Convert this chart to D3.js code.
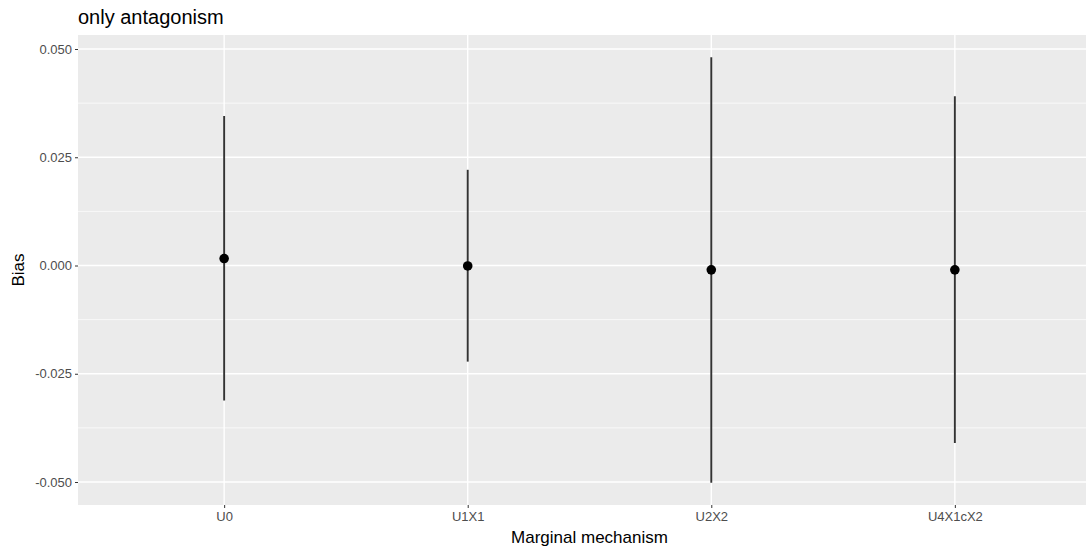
<!DOCTYPE html>
<html>
<head>
<meta charset="utf-8">
<script src="https://cdn.jsdelivr.net/npm/d3@7"></script>
<style>
  body { margin: 0; background: #fff; }
  svg { font-family: "Liberation Sans", Arial, sans-serif; display: block; }
</style>
</head>
<body>
<div id="chart"></div>
<script>
// valores
var mechanisms = ["U0", "U1X1", "U2X2", "U4X1cX2"];
var bias = [0.0016, -0.0001, -0.0010, -0.0010];
var lower = [-0.0312, -0.0222, -0.0502, -0.0410];
var upper = [0.0345, 0.0221, 0.0481, 0.0391];
var yTicks = [-0.050, -0.025, 0.000, 0.025, 0.050];
var yMinor = [-0.0375, -0.0125, 0.0125, 0.0375];

var width = 1086, height = 550;
// painel (o lado direito sai fora da imagem, como no original)
var pLeft = 78, pTop = 35, pBottom = 505, pRight = 1101;

var svg = d3.select("#chart").append("svg")
  .attr("width", width)
  .attr("height", height);

// escala discreta com expansao de 0.6 como no ggplot
var step = (pRight - pLeft) / (mechanisms.length - 1 + 1.2);
var x = d3.scalePoint()
  .domain(mechanisms)
  .range([pLeft + 0.6 * step, pRight - 0.6 * step]);

var y = d3.scaleLinear()
  .domain([-0.050, 0.050])
  .range([482, 49]);

svg.append("rect")
  .attr("x", pLeft).attr("y", pTop)
  .attr("width", pRight - pLeft).attr("height", pBottom - pTop)
  .attr("fill", "#ebebeb");

var grid = svg.append("g");
grid.selectAll("line.minor").data(yMinor).enter().append("line")
  .attr("class", "minor")
  .attr("x1", pLeft).attr("x2", pRight)
  .attr("y1", d => y(d)).attr("y2", d => y(d))
  .attr("stroke", "#fff").attr("stroke-width", 0.7);
grid.selectAll("line.major").data(yTicks).enter().append("line")
  .attr("class", "major")
  .attr("x1", pLeft).attr("x2", pRight)
  .attr("y1", d => y(d)).attr("y2", d => y(d))
  .attr("stroke", "#fff").attr("stroke-width", 1.4);
grid.selectAll("line.vx").data(mechanisms).enter().append("line")
  .attr("class", "vx")
  .attr("x1", d => x(d)).attr("x2", d => x(d))
  .attr("y1", pTop).attr("y2", pBottom)
  .attr("stroke", "#fff").attr("stroke-width", 1.4);

// eixos
var yAxis = svg.append("g")
  .attr("transform", "translate(" + pLeft + ",0)")
  .call(d3.axisLeft(y).tickValues(yTicks).tickSize(3).tickPadding(3));
var xAxis = svg.append("g")
  .attr("transform", "translate(0," + pBottom + ")")
  .call(d3.axisBottom(x).tickSize(3).tickPadding(4));

[yAxis, xAxis].forEach(function (a) {
  a.select(".domain").remove();
  a.selectAll(".tick line").attr("stroke", "#333").attr("stroke-width", 1);
  a.selectAll(".tick text")
    .attr("fill", "#4d4d4d")
    .style("font-size", "13px")
    .style("font-family", "'Liberation Sans', Arial, sans-serif");
});
yAxis.selectAll(".tick text").text(d => d3.format(".3f")(d).replace("−", "-"));

// intervalos e pontos
var data = mechanisms.map(function (m, i) {
  return { m: m, bias: bias[i], lo: lower[i], hi: upper[i] };
});

svg.append("g").selectAll("line").data(data).enter().append("line")
  .attr("x1", d => x(d.m)).attr("x2", d => x(d.m))
  .attr("y1", d => y(d.lo)).attr("y2", d => y(d.hi))
  .attr("stroke", "#333").attr("stroke-width", 1.9);

svg.append("g").selectAll("circle").data(data).enter().append("circle")
  .attr("cx", d => x(d.m)).attr("cy", d => y(d.bias))
  .attr("r", 4.8)
  .attr("fill", "#000");

// titulos
svg.append("text")
  .attr("x", pLeft).attr("y", 24)
  .attr("font-size", "20px").attr("fill", "#000")
  .text("only antagonism");

svg.append("text")
  .attr("x", (pLeft + pRight) / 2).attr("y", 543)
  .attr("text-anchor", "middle")
  .attr("font-size", "17px").attr("fill", "#000")
  .text("Marginal mechanism");

svg.append("text")
  .attr("transform", "translate(24," + ((pTop + pBottom) / 2) + ") rotate(-90)")
  .attr("text-anchor", "middle")
  .attr("font-size", "17px").attr("fill", "#000")
  .text("Bias");
</script>
</body>
</html>
